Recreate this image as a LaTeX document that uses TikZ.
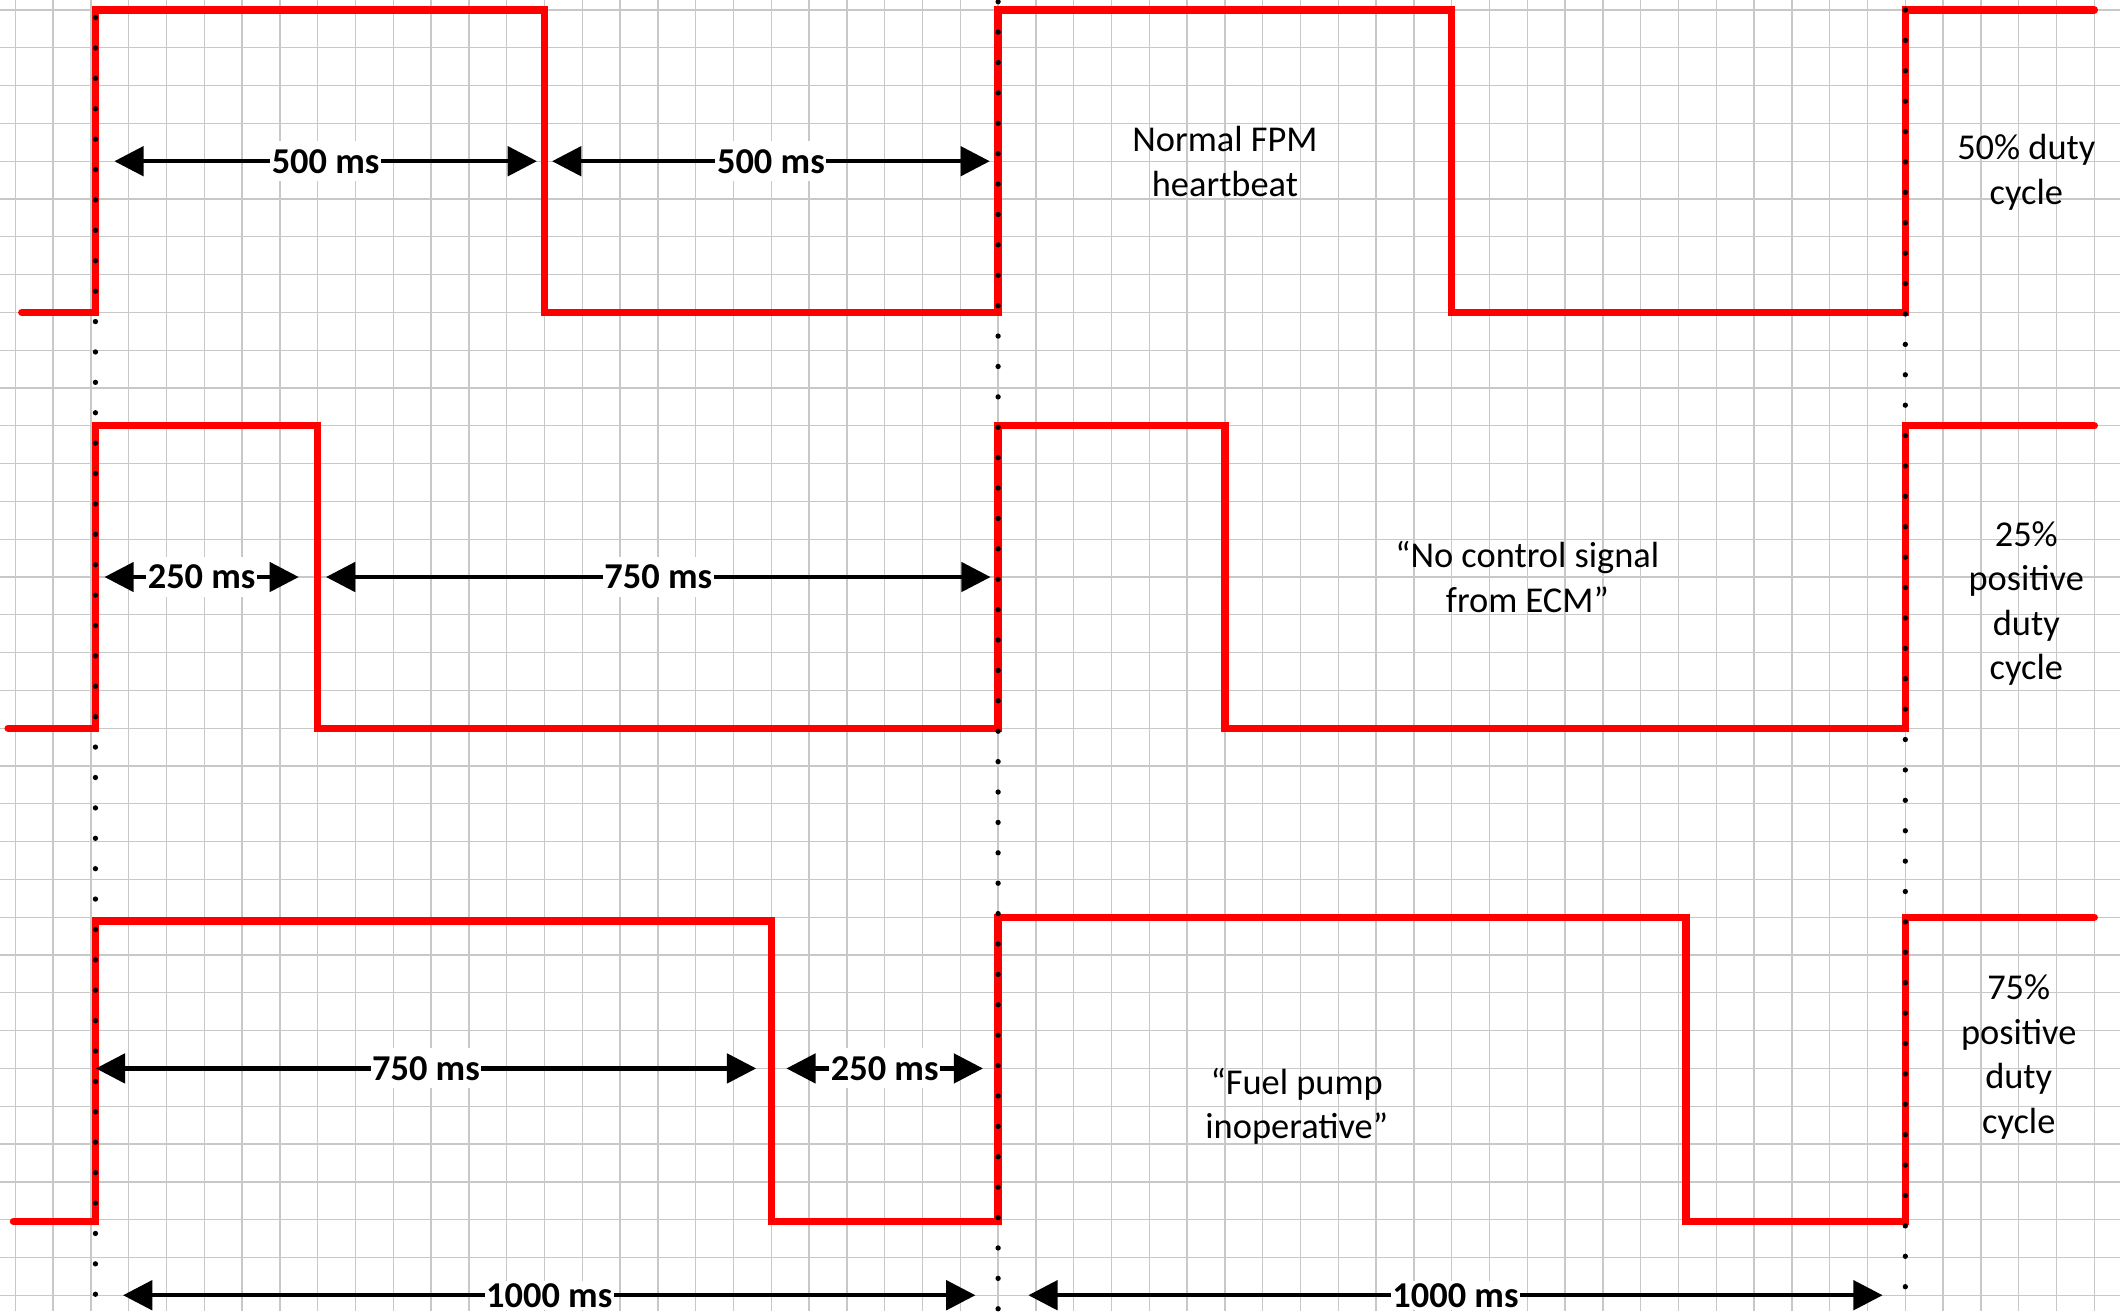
\documentclass[tikz,border=0pt]{standalone}
\usepackage{fontspec}
\setmainfont{Carlito}
\usepackage{xcolor}
\usetikzlibrary{arrows.meta}
\definecolor{sheetgrid}{RGB}{200,200,200}

\begin{document}
\begin{tikzpicture}[x=0.5cm, y=-0.5cm,
  wave/.style={draw=red, line width=2.75pt, line cap=round},
  guide/.style={black, line width=2pt, line cap=round,
    dash pattern=on 0pt off 11.44pt},
  dimarrow/.style={{Triangle[length=11pt,width=11pt]}-{Triangle[length=11pt,width=11pt]},
    line width=1.6pt},
  dur/.style={fill=white, inner xsep=0.6pt, inner ysep=3pt,
    font=\fontsize{13.7}{16.8}\selectfont\bfseries},
  note/.style={align=center, font=\fontsize{13.7}{16.8}\selectfont}
]
\fill[white] (-0.405,34.42) rectangle (55.68,-0.265);
\useasboundingbox (-0.405,34.42) rectangle (55.68,-0.265);
\draw[sheetgrid, line width=0.5pt, step=0.5cm] (-0.405,34.42) grid (55.68,-0.265);

\draw[wave] (0.17,8) -- (2.12,8) -- (2.12,0) -- (14,0) -- (14,8) -- (26,8)
  -- (26,0) -- (38,0) -- (38,8) -- (50,8) -- (50,0) -- (55,0);
\draw[wave] (-0.19,19) -- (2.12,19) -- (2.12,11) -- (8,11) -- (8,19) -- (26,19)
  -- (26,11) -- (32,11) -- (32,19) -- (50,19) -- (50,11) -- (55,11);
\draw[wave] (-0.05,32.05) -- (2.12,32.05) -- (2.12,24.1) -- (20,24.1) -- (20,32.05)
  -- (26,32.05) -- (26,24) -- (44.2,24) -- (44.2,32.05) -- (50,32.05) -- (50,24) -- (55,24);

\draw[guide] (2.12,0.2) -- (2.12,34.42);
\draw[guide] (26,-0.22) -- (26,34.42);
\draw[guide] (50,0) -- (50,34.42);

\coordinate (a1) at (2.62,4);
\coordinate (a2) at (13.8,4);
\coordinate (a3) at (14.2,4);
\coordinate (a4) at (25.78,4);
\coordinate (b1) at (2.36,15);
\coordinate (b2) at (7.5,15);
\coordinate (b3) at (8.22,15);
\coordinate (b4) at (25.8,15);
\coordinate (c1) at (2.13,28);
\coordinate (c2) at (19.6,28);
\coordinate (c3) at (20.4,28);
\coordinate (c4) at (25.6,28);
\coordinate (e1) at (2.85,34);
\coordinate (e2) at (25.4,34);
\coordinate (e3) at (26.8,34);
\coordinate (e4) at (49.4,34);

\draw[dimarrow] (a1) -- node[dur] (ta1) {500 ms} (a2);
\draw[dimarrow] (a3) -- node[dur] (ta2) {500 ms} (a4);
\draw[dimarrow] (b1) -- node[dur] (tb1) {250 ms} (b2);
\draw[dimarrow] (b3) -- node[dur] (tb2) {750 ms} (b4);
\draw[dimarrow] (c1) -- node[dur] (tc1) {750 ms} (c2);
\draw[dimarrow] (c3) -- node[dur] (tc2) {250 ms} (c4);
\draw[dimarrow] (e1) -- node[dur, inner ysep=1pt] (te1) {1000 ms} (e2);
\draw[dimarrow] (e3) -- node[dur, inner ysep=1pt] (te2) {1000 ms} (e4);

\node[note] (n1) at (32,4.0) {Normal FPM\\heartbeat};
\node[note] (n2) at (53.2,4.3) {50\% duty\\cycle};
\node[note] (n3) at (40,15) {“No control signal\\from ECM”};
\node[note] (n4) at (53.2,15.7) {25\%\\positive\\duty\\cycle};
\node[note] (n5) at (33.9,29) {“Fuel pump\\inoperative”};
\node[note] (n6) at (53,27.7) {75\%\\positive\\duty\\cycle};
\end{tikzpicture}
\end{document}
